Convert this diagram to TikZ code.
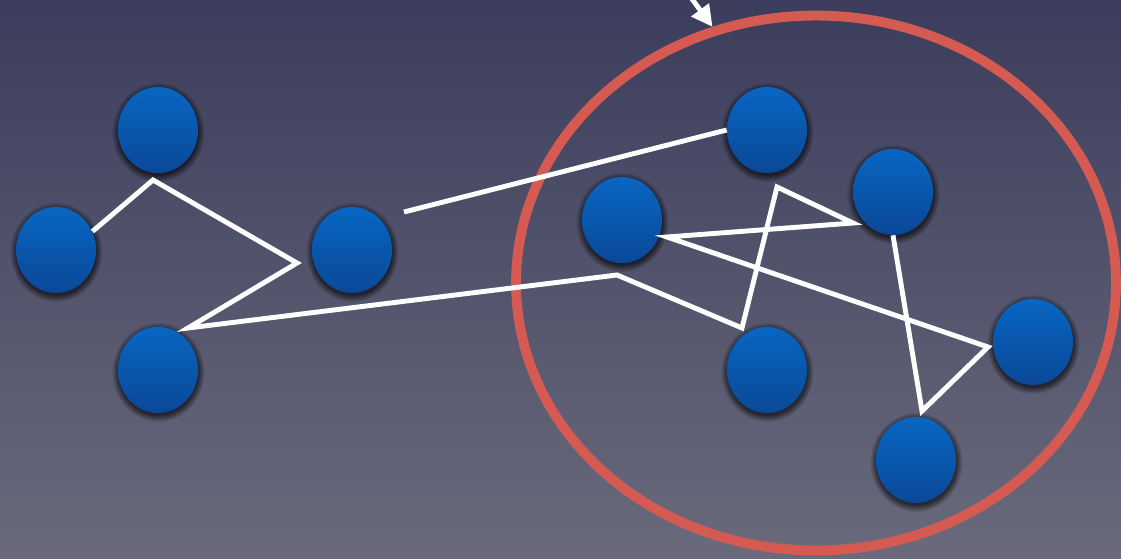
\documentclass[tikz,border=0pt]{standalone}
\usetikzlibrary{positioning, arrows.meta, shapes.geometric, shadows}

\definecolor{bgtop}{RGB}{60,61,92}
\definecolor{bgbot}{RGB}{106,106,124}
\definecolor{balltop}{RGB}{8,102,194}
\definecolor{ballbot}{RGB}{10,72,152}
\definecolor{ringred}{RGB}{212,90,82}

\begin{document}
\begin{tikzpicture}[
  x=0.02cm, y=-0.02cm,      % 1 unit = 1 pixel of the layout
  >=Stealth,
  vertex/.style={ellipse, minimum width=1.6cm, minimum height=1.72cm, inner sep=0pt,
    top color=balltop, bottom color=ballbot,
    circular drop shadow={shadow xshift=0pt, shadow yshift=-1pt, shadow scale=1.16, opacity=0.6, fill=black}},
  wire/.style={draw=white, line width=2.8pt, line join=miter},
  ring/.style={draw=ringred, ellipse, line width=5.6pt, minimum width=12cm, minimum height=10.7cm, inner sep=0pt},
  pointer/.style={draw=white, line width=2.8pt, -{Triangle[length=12pt, width=12pt]}}
  ]

  % --- background ---
  \clip (0,0) rectangle (1121,558);
  \shade[top color=bgtop, bottom color=bgbot] (0,0) rectangle (1121,558);

  % --- left group ---
  \node [vertex] (a) at (158,130) {};
  \node [vertex] (b) at (56,250) {};
  \node [vertex] (c) at (352,250) {};
  \node [vertex] (d) at (158,370) {};

  % --- right group ---
  \node [vertex] (e) at (767,130) {};
  \node [vertex] (f) at (622,220) {};
  \node [vertex] (g) at (893,192) {};
  \node [vertex] (h) at (767,370) {};
  \node [vertex] (i) at (1033,342) {};
  \node [vertex] (j) at (916,460) {};

  % --- the circle round the right group ---
  \node [ring] (grp) at (816,283) {};

  % --- bends of the path ---
  \coordinate (k1) at (153,180);
  \coordinate (k2) at (297,263);
  \coordinate (k3) at (188,328);
  \coordinate (k4) at (617,275);
  \coordinate (k5) at (742,328);
  \coordinate (k6) at (777,187);
  \coordinate (k7) at (853,223);
  \coordinate (kf) at (667,237);
  \coordinate (k8) at (988,347);
  \coordinate (k9) at (922,411);
  \coordinate (s1) at (404,212);
  \coordinate (tail) at (678,-20);

  % --- connectors ---
  \draw [wire] (b.27) -- (k1) -- (k2) -- (k3) -- (k4) -- (k5) -- (k6) -- (k7)
    -- (kf) -- (k8) -- (k9) -- (g.south);
  \draw [wire] (s1) -- (e.west);
  \draw [pointer] (tail) -- (grp.112);

\end{tikzpicture}
\end{document}
